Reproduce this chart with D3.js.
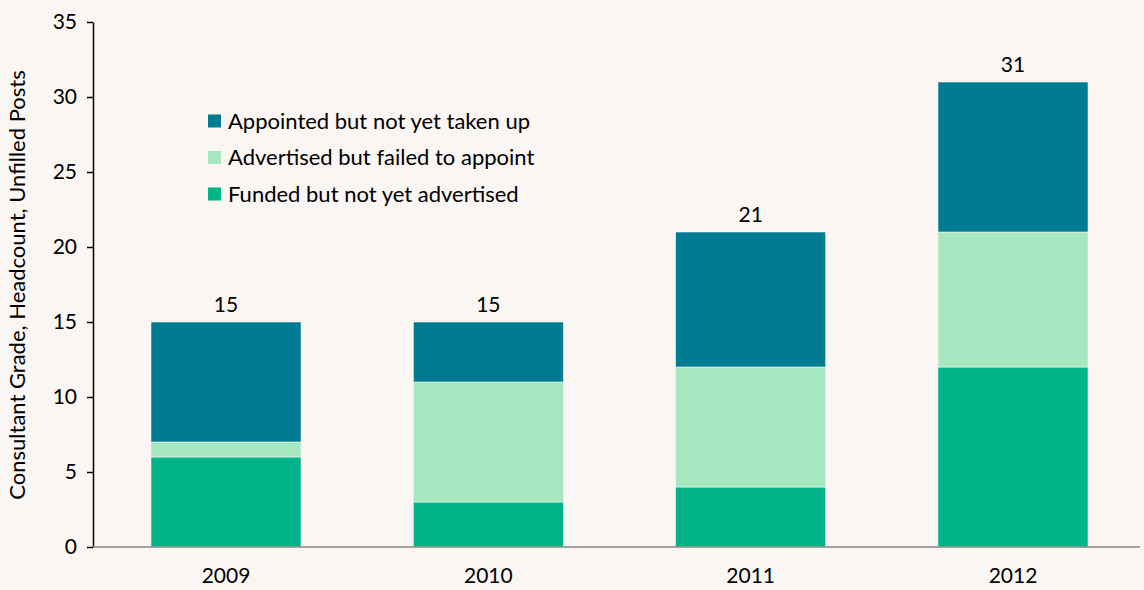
<!DOCTYPE html>
<html>
<head>
<meta charset="utf-8">
<script src="https://cdn.jsdelivr.net/npm/d3@7"></script>
<style>
  body { margin: 0; background: #f9f6f3; }
  svg { display: block; font-family: Lato, "Open Sans", sans-serif; }
</style>
</head>
<body>
<script>
// Data
var years = ["2009", "2010", "2011", "2012"];
var funded = [6, 3, 4, 12];
var advertised = [1, 8, 8, 9];
var appointed = [8, 4, 9, 10];
var seriesNames = ["Funded but not yet advertised", "Advertised but failed to appoint", "Appointed but not yet taken up"];
var seriesColors = ["#00b388", "#a7e7bf", "#007b91"];
var yTicks = [0, 5, 10, 15, 20, 25, 30, 35];

var W = 1144, H = 590;
var margin = {top: 22, right: 4, bottom: 43, left: 93},
    width = W - margin.left - margin.right,
    height = H - margin.top - margin.bottom;

var rows = years.map(function (y, i) {
    return {year: y, s0: funded[i], s1: advertised[i], s2: appointed[i]};
});
var keys = ["s0", "s1", "s2"];
var stacked = d3.stack().keys(keys)(rows);

var xScale = d3.scaleBand().domain(years).range([0, 1053]).paddingInner(0.428).paddingOuter(0.221);
var yScale = d3.scaleLinear().domain([0, 35]).range([height, 0]);

var svg = d3.select("body").append("svg")
    .attr("width", W).attr("height", H)
  .append("g")
    .attr("transform", "translate(" + margin.left + "," + margin.top + ")");

// bars
svg.selectAll(".layer")
    .data(stacked)
    .enter().append("g")
    .attr("fill", function (d, i) { return seriesColors[i]; })
    .selectAll("rect")
    .data(function (d) { return d; })
    .enter().append("rect")
    .attr("x", function (d) { return xScale(d.data.year); })
    .attr("y", function (d) { return yScale(d[1]); })
    .attr("width", xScale.bandwidth())
    .attr("height", function (d) { return yScale(d[0]) - yScale(d[1]); })
    .attr("stroke", "#f4f4f0")
    .attr("stroke-width", 0.6);

// totals
svg.selectAll(".total")
    .data(rows)
    .enter().append("text")
    .attr("x", function (d) { return xScale(d.year) + xScale.bandwidth() / 2; })
    .attr("y", function (d) { return yScale(d.s0 + d.s1 + d.s2) - 10; })
    .attr("text-anchor", "middle")
    .attr("font-size", 21)
    .attr("fill", "#000")
    .text(function (d) { return d.s0 + d.s1 + d.s2; });

// y axis
var yAxis = svg.append("g")
    .call(d3.axisLeft(yScale).tickValues(yTicks).tickSize(6).tickSizeOuter(0).tickPadding(10));
yAxis.select(".domain").attr("stroke", "#000").attr("stroke-width", 1.5);
yAxis.selectAll(".tick line").attr("stroke", "#000").attr("stroke-width", 1.5);
yAxis.selectAll("text").attr("font-size", 21).attr("fill", "#000").attr("font-family", "Lato, sans-serif");

// x axis
var xAxis = svg.append("g")
    .attr("transform", "translate(0," + height + ")")
    .call(d3.axisBottom(xScale).tickSize(0).tickPadding(21));
xAxis.select(".domain").remove();
xAxis.append("line")
    .attr("x1", 0).attr("x2", width)
    .attr("stroke", "#888").attr("stroke-width", 1.5);
xAxis.selectAll("text").attr("font-size", 21).attr("fill", "#000").attr("font-family", "Lato, sans-serif");

// y axis title
svg.append("text")
    .attr("transform", "rotate(-90)")
    .attr("x", -(285 - margin.top))
    .attr("y", -margin.left + 25)
    .attr("text-anchor", "middle")
    .attr("font-size", 22)
    .attr("fill", "#000")
    .text("Consultant Grade, Headcount, Unfilled Posts");

// legend (top to bottom: appointed, advertised, funded)
var legendOrder = [2, 1, 0];
var legend = svg.selectAll(".legend")
    .data(legendOrder)
    .enter().append("g")
    .attr("transform", function (d, i) { return "translate(115," + (99 + i * 36.5) + ")"; });
legend.append("rect")
    .attr("width", 13).attr("height", 13).attr("y", -6.5)
    .attr("fill", function (d) { return seriesColors[d]; });
legend.append("text")
    .attr("x", 20).attr("y", 0).attr("dy", "0.35em")
    .attr("font-size", 22)
    .attr("fill", "#000")
    .text(function (d) { return seriesNames[d]; });
</script>
</body>
</html>
